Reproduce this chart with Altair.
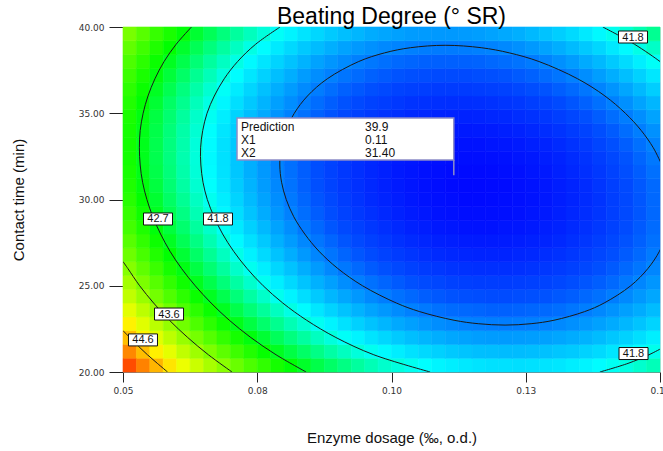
import altair as alt
import pandas as pd

# ---------------- data ----------------
# cell edges of the response-surface grid
enzyme_edges = [0.05, 0.0525, 0.055, 0.0575, 0.06, 0.0625, 0.065, 0.0675, 0.07, 0.0725,
                0.075, 0.0775, 0.08, 0.0825, 0.085, 0.0875, 0.09, 0.0925, 0.095, 0.0975,
                0.1, 0.1025, 0.105, 0.1075, 0.11, 0.1125, 0.115, 0.1175, 0.12, 0.1225,
                0.125, 0.1275, 0.13, 0.1325, 0.135, 0.1375, 0.14, 0.1425, 0.145, 0.1475, 0.15]
time_edges = [20, 20.8, 21.6, 22.4, 23.2, 24, 24.8, 25.6, 26.4, 27.2, 28, 28.8, 29.6,
              30.4, 31.2, 32, 32.8, 33.6, 34.4, 35.2, 36, 36.8, 37.6, 38.4, 39.2, 40]

# Beating degree (deg SR) per cell, rows from bottom (20 min) to top (40 min)
beating_rows = [
    [45.14, 44.89, 44.65, 44.42, 44.19, 43.98, 43.77, 43.58, 43.39, 43.21, 43.04, 42.88, 42.73, 42.58, 42.45, 42.33, 42.21, 42.10, 42.00, 41.91, 41.83, 41.76, 41.70, 41.64, 41.60, 41.56, 41.53, 41.51, 41.51, 41.50, 41.51, 41.53, 41.55, 41.59, 41.63, 41.69, 41.75, 41.82, 41.90, 41.99],
    [44.86, 44.61, 44.37, 44.14, 43.92, 43.71, 43.51, 43.31, 43.12, 42.95, 42.78, 42.62, 42.47, 42.33, 42.20, 42.07, 41.96, 41.85, 41.76, 41.67, 41.59, 41.52, 41.46, 41.41, 41.36, 41.33, 41.30, 41.29, 41.28, 41.28, 41.29, 41.31, 41.34, 41.37, 41.42, 41.47, 41.54, 41.61, 41.69, 41.78],
    [44.60, 44.35, 44.12, 43.89, 43.67, 43.46, 43.26, 43.06, 42.88, 42.70, 42.54, 42.38, 42.23, 42.09, 41.96, 41.84, 41.73, 41.63, 41.53, 41.45, 41.37, 41.30, 41.24, 41.19, 41.15, 41.12, 41.09, 41.08, 41.07, 41.08, 41.09, 41.11, 41.14, 41.18, 41.22, 41.28, 41.35, 41.42, 41.50, 41.60],
    [44.36, 44.11, 43.88, 43.65, 43.43, 43.22, 43.02, 42.83, 42.65, 42.48, 42.31, 42.16, 42.01, 41.88, 41.75, 41.63, 41.52, 41.41, 41.32, 41.24, 41.16, 41.10, 41.04, 40.99, 40.95, 40.92, 40.90, 40.89, 40.88, 40.89, 40.90, 40.92, 40.96, 41.00, 41.05, 41.11, 41.17, 41.25, 41.33, 41.43],
    [44.13, 43.89, 43.66, 43.43, 43.22, 43.01, 42.81, 42.62, 42.44, 42.27, 42.11, 41.96, 41.81, 41.68, 41.55, 41.43, 41.32, 41.22, 41.13, 41.05, 40.98, 40.91, 40.86, 40.81, 40.77, 40.75, 40.73, 40.71, 40.71, 40.72, 40.74, 40.76, 40.79, 40.84, 40.89, 40.95, 41.02, 41.10, 41.18, 41.28],
    [43.92, 43.68, 43.45, 43.23, 43.02, 42.81, 42.62, 42.43, 42.25, 42.08, 41.92, 41.77, 41.63, 41.49, 41.37, 41.25, 41.15, 41.05, 40.96, 40.88, 40.81, 40.75, 40.69, 40.65, 40.61, 40.59, 40.57, 40.56, 40.56, 40.57, 40.59, 40.61, 40.65, 40.69, 40.75, 40.81, 40.88, 40.96, 41.05, 41.15],
    [43.74, 43.50, 43.27, 43.05, 42.84, 42.63, 42.44, 42.25, 42.08, 41.91, 41.75, 41.60, 41.46, 41.33, 41.21, 41.10, 40.99, 40.89, 40.81, 40.73, 40.66, 40.60, 40.55, 40.51, 40.47, 40.45, 40.43, 40.43, 40.43, 40.44, 40.46, 40.49, 40.52, 40.57, 40.63, 40.69, 40.76, 40.85, 40.94, 41.04],
    [43.56, 43.33, 43.10, 42.88, 42.67, 42.47, 42.28, 42.10, 41.92, 41.76, 41.60, 41.45, 41.32, 41.19, 41.07, 40.95, 40.85, 40.76, 40.67, 40.60, 40.53, 40.47, 40.42, 40.38, 40.35, 40.33, 40.31, 40.31, 40.31, 40.32, 40.35, 40.38, 40.42, 40.46, 40.52, 40.59, 40.66, 40.75, 40.84, 40.94],
    [43.41, 43.18, 42.95, 42.74, 42.53, 42.33, 42.14, 41.96, 41.79, 41.62, 41.47, 41.32, 41.19, 41.06, 40.94, 40.83, 40.73, 40.64, 40.56, 40.48, 40.42, 40.36, 40.31, 40.27, 40.24, 40.22, 40.21, 40.21, 40.21, 40.23, 40.25, 40.29, 40.33, 40.38, 40.44, 40.51, 40.58, 40.67, 40.76, 40.87],
    [43.28, 43.05, 42.82, 42.61, 42.40, 42.21, 42.02, 41.84, 41.67, 41.51, 41.36, 41.21, 41.08, 40.95, 40.84, 40.73, 40.63, 40.54, 40.46, 40.39, 40.32, 40.27, 40.22, 40.18, 40.16, 40.14, 40.13, 40.13, 40.14, 40.15, 40.18, 40.21, 40.25, 40.31, 40.37, 40.44, 40.52, 40.61, 40.70, 40.81],
    [43.16, 42.93, 42.71, 42.50, 42.30, 42.10, 41.92, 41.74, 41.57, 41.41, 41.26, 41.12, 40.99, 40.86, 40.75, 40.64, 40.54, 40.46, 40.38, 40.31, 40.25, 40.19, 40.15, 40.11, 40.09, 40.07, 40.06, 40.06, 40.08, 40.09, 40.12, 40.16, 40.20, 40.26, 40.32, 40.39, 40.47, 40.56, 40.66, 40.77],
    [43.07, 42.84, 42.62, 42.41, 42.21, 42.01, 41.83, 41.65, 41.49, 41.33, 41.18, 41.04, 40.91, 40.79, 40.68, 40.57, 40.48, 40.39, 40.32, 40.25, 40.19, 40.14, 40.10, 40.06, 40.04, 40.02, 40.02, 40.02, 40.03, 40.05, 40.08, 40.12, 40.17, 40.23, 40.29, 40.36, 40.45, 40.54, 40.64, 40.75],
    [42.99, 42.76, 42.55, 42.34, 42.14, 41.95, 41.76, 41.59, 41.43, 41.27, 41.12, 40.99, 40.86, 40.74, 40.63, 40.53, 40.43, 40.35, 40.27, 40.21, 40.15, 40.10, 40.06, 40.03, 40.01, 39.99, 39.99, 40.00, 40.01, 40.03, 40.06, 40.10, 40.15, 40.21, 40.28, 40.35, 40.44, 40.53, 40.64, 40.75],
    [42.93, 42.70, 42.49, 42.28, 42.08, 41.89, 41.71, 41.54, 41.38, 41.23, 41.08, 40.95, 40.82, 40.70, 40.59, 40.49, 40.40, 40.32, 40.25, 40.18, 40.13, 40.08, 40.04, 40.01, 39.99, 39.98, 39.98, 39.99, 40.00, 40.03, 40.06, 40.10, 40.15, 40.21, 40.28, 40.36, 40.45, 40.54, 40.65, 40.76],
    [42.89, 42.66, 42.45, 42.25, 42.05, 41.86, 41.68, 41.52, 41.35, 41.20, 41.06, 40.93, 40.80, 40.69, 40.58, 40.48, 40.39, 40.31, 40.24, 40.18, 40.12, 40.08, 40.04, 40.02, 40.00, 39.99, 39.99, 40.00, 40.02, 40.04, 40.08, 40.12, 40.18, 40.24, 40.31, 40.39, 40.48, 40.58, 40.68, 40.80],
    [42.86, 42.64, 42.43, 42.23, 42.03, 41.85, 41.67, 41.51, 41.35, 41.20, 41.06, 40.92, 40.80, 40.69, 40.58, 40.49, 40.40, 40.32, 40.25, 40.19, 40.14, 40.10, 40.06, 40.04, 40.02, 40.02, 40.02, 40.03, 40.05, 40.08, 40.11, 40.16, 40.21, 40.28, 40.35, 40.43, 40.52, 40.62, 40.73, 40.85],
    [42.86, 42.64, 42.43, 42.23, 42.04, 41.85, 41.68, 41.51, 41.36, 41.21, 41.07, 40.94, 40.82, 40.71, 40.61, 40.51, 40.43, 40.35, 40.28, 40.22, 40.17, 40.13, 40.10, 40.08, 40.06, 40.06, 40.06, 40.08, 40.10, 40.13, 40.17, 40.21, 40.27, 40.34, 40.41, 40.50, 40.59, 40.69, 40.80, 40.92],
    [42.87, 42.66, 42.45, 42.25, 42.06, 41.88, 41.71, 41.54, 41.39, 41.24, 41.11, 40.98, 40.86, 40.75, 40.65, 40.55, 40.47, 40.40, 40.33, 40.27, 40.23, 40.19, 40.16, 40.14, 40.12, 40.12, 40.13, 40.14, 40.17, 40.20, 40.24, 40.29, 40.35, 40.42, 40.49, 40.58, 40.67, 40.78, 40.89, 41.01],
    [42.90, 42.69, 42.48, 42.29, 42.10, 41.92, 41.75, 41.59, 41.43, 41.29, 41.16, 41.03, 40.91, 40.80, 40.71, 40.62, 40.53, 40.46, 40.40, 40.34, 40.30, 40.26, 40.23, 40.21, 40.20, 40.20, 40.21, 40.23, 40.25, 40.29, 40.33, 40.38, 40.44, 40.51, 40.59, 40.68, 40.78, 40.88, 40.99, 41.12],
    [42.95, 42.74, 42.54, 42.34, 42.16, 41.98, 41.81, 41.65, 41.50, 41.36, 41.23, 41.10, 40.99, 40.88, 40.78, 40.69, 40.61, 40.54, 40.48, 40.43, 40.39, 40.35, 40.33, 40.31, 40.30, 40.30, 40.31, 40.33, 40.36, 40.39, 40.44, 40.49, 40.55, 40.63, 40.71, 40.80, 40.90, 41.00, 41.12, 41.24],
    [43.02, 42.81, 42.61, 42.42, 42.23, 42.06, 41.89, 41.73, 41.58, 41.44, 41.31, 41.19, 41.08, 40.97, 40.88, 40.79, 40.71, 40.65, 40.59, 40.54, 40.49, 40.46, 40.44, 40.42, 40.42, 40.42, 40.43, 40.45, 40.48, 40.52, 40.57, 40.62, 40.69, 40.76, 40.84, 40.93, 41.03, 41.14, 41.26, 41.39],
    [43.11, 42.90, 42.70, 42.51, 42.33, 42.15, 41.99, 41.83, 41.69, 41.55, 41.42, 41.30, 41.19, 41.08, 40.99, 40.91, 40.83, 40.77, 40.71, 40.66, 40.62, 40.59, 40.57, 40.55, 40.55, 40.55, 40.57, 40.59, 40.62, 40.66, 40.71, 40.77, 40.83, 40.91, 40.99, 41.09, 41.19, 41.30, 41.42, 41.55],
    [43.21, 43.01, 42.81, 42.62, 42.44, 42.27, 42.10, 41.95, 41.81, 41.67, 41.54, 41.43, 41.32, 41.22, 41.12, 41.04, 40.97, 40.90, 40.85, 40.80, 40.76, 40.73, 40.71, 40.70, 40.70, 40.71, 40.72, 40.75, 40.78, 40.82, 40.87, 40.93, 41.00, 41.08, 41.17, 41.26, 41.37, 41.48, 41.60, 41.73],
    [43.34, 43.13, 42.94, 42.75, 42.57, 42.40, 42.24, 42.09, 41.95, 41.81, 41.69, 41.57, 41.46, 41.36, 41.28, 41.20, 41.12, 41.06, 41.01, 40.96, 40.93, 40.90, 40.88, 40.87, 40.87, 40.88, 40.90, 40.92, 40.96, 41.00, 41.06, 41.12, 41.19, 41.27, 41.36, 41.45, 41.56, 41.67, 41.80, 41.93],
    [43.48, 43.28, 43.08, 42.90, 42.72, 42.55, 42.39, 42.24, 42.10, 41.97, 41.85, 41.73, 41.63, 41.53, 41.45, 41.37, 41.30, 41.24, 41.18, 41.14, 41.11, 41.08, 41.07, 41.06, 41.06, 41.07, 41.09, 41.12, 41.16, 41.20, 41.26, 41.32, 41.39, 41.47, 41.57, 41.66, 41.77, 41.89, 42.02, 42.15],
]

# contour lines (enzyme dosage, contact time)
c409_x = [0.15035, 0.14875, 0.1465, 0.14355, 0.13975, 0.13465, 0.12745, 0.12195, 0.1167, 0.11,
          0.10355, 0.0987, 0.0939, 0.08805, 0.08435, 0.0819, 0.08035, 0.07945, 0.0792, 0.07953,
          0.0804, 0.0818, 0.08385, 0.0865, 0.09, 0.0946, 0.1009, 0.10525, 0.11165, 0.11615,
          0.12115, 0.126, 0.13025, 0.13595, 0.1396, 0.14455, 0.14775, 0.1499, 0.1512]
c409_y = [32.0, 33.0, 34.0, 35.0, 36.0, 37.0, 38.0, 38.5, 38.8, 38.94,
          38.8, 38.5, 38.0, 37.0, 36.0, 35.0, 34.0, 33.0, 32.0, 31.0,
          30.0, 29.0, 28.0, 27.0, 26.0, 25.0, 24.0, 23.5, 23.0, 22.8,
          22.72, 22.8, 23.0, 23.5, 24.0, 25.0, 26.0, 27.0, 28.0]
c418a_x = [0.07925, 0.0747, 0.07135, 0.06885, 0.067, 0.06565, 0.06485, 0.06445, 0.0645, 0.0649,
           0.0657, 0.06695, 0.06855, 0.0706, 0.0731, 0.0761, 0.07975, 0.0842, 0.08965, 0.0967, 0.1072]
c418a_y = [40, 39, 38, 37, 36, 35, 34, 33, 32, 31, 30, 29, 28, 27, 26, 25, 24, 23, 22, 21, 20]
c418b_x = [0.1388, 0.14405, 0.14795, 0.15045]
c418b_y = [20.0, 20.5, 21.0, 21.4]
c418c_x = [0.13935, 0.14525, 0.15, 0.1508]
c418c_y = [40.0, 39.0, 38.0, 37.8]
c427_x = [0.06275, 0.0599, 0.05765, 0.05595, 0.05465, 0.05375, 0.0532, 0.05305, 0.0532, 0.05365,
          0.05445, 0.05555, 0.057, 0.05875, 0.0609, 0.06345, 0.0664, 0.0698, 0.0738, 0.0785, 0.0841]
c427_y = [40, 39, 38, 37, 36, 35, 34, 33, 32, 31, 30, 29, 28, 27, 26, 25, 24, 23, 22, 21, 20]
c436_x = [0.05, 0.0509, 0.0531, 0.0557, 0.05865, 0.06205, 0.0659, 0.0703]
c436_y = [26.4, 26.0, 25.0, 24.0, 23.0, 22.0, 21.0, 20.0]
c446_x = [0.05, 0.05125, 0.05285, 0.05455, 0.0564, 0.0583]
c446_y = [22.4, 22.0, 21.5, 21.0, 20.5, 20.0]

label_text = ["42.7", "41.8", "43.6", "44.6", "41.8", "41.8"]
label_x = [0.05652, 0.06769, 0.05857, 0.05372, 0.14497, 0.14507]
label_y = [28.87, 28.87, 23.36, 21.86, 39.42, 21.07]

pred_names = ["Prediction", "X1", "X2"]
pred_values = ["39.9", "0.11", "31.40"]
pred_point_x = 0.1116
pred_point_y = 31.4

x_ticks = [0.05, 0.075, 0.10, 0.125, 0.15]
x_tick_labels = ["0.05", "0.08", "0.10", "0.13", "0.15"]
y_ticks = [20, 25, 30, 35, 40]

color_stops = [39.9, 40.6, 41.7, 42.75, 44.3, 45.5]
color_names = ["#0000ff", "#0050ff", "#00ffff", "#00ff00", "#ffff00", "#ff0000"]

# ---------------- tables ----------------
cell_records = []
for r, row in enumerate(beating_rows):
    for c, val in enumerate(row):
        cell_records.append({"x": enzyme_edges[c], "x2": enzyme_edges[c + 1],
                             "y": time_edges[r], "y2": time_edges[r + 1], "v": val})
cells = pd.DataFrame(cell_records)

line_records = []
for name, xs, ys in [("40.9", c409_x, c409_y), ("41.8a", c418a_x, c418a_y),
                     ("41.8b", c418b_x, c418b_y), ("41.8c", c418c_x, c418c_y),
                     ("42.7", c427_x, c427_y), ("43.6", c436_x, c436_y),
                     ("44.6", c446_x, c446_y)]:
    for i, (xv, yv) in enumerate(zip(xs, ys)):
        line_records.append({"piece": name, "i": i, "x": xv, "y": yv})
lines_df = pd.DataFrame(line_records)

labels_df = pd.DataFrame({"x": label_x, "y": label_y, "t": label_text})

# prediction flag layout (positions in data units)
box_df = pd.DataFrame([{"x": 0.07123, "x2": pred_point_x, "y": 32.29, "y2": 34.725}])
pole_df = pd.DataFrame([{"x": pred_point_x, "y": pred_point_y, "y2": 32.29}])
row_y = [33.97, 33.21, 32.45]
pred_text_df = pd.DataFrame(
    [{"x": 0.07197, "y": yy, "t": n} for n, yy in zip(pred_names, row_y)] +
    [{"x": 0.09507, "y": yy, "t": v} for v, yy in zip(pred_values, row_y)])

# ---------------- encodings ----------------
label_expr = " : ".join(
    [f"abs(datum.value - {v}) < 0.001 ? '{t}'" for v, t in zip(x_ticks, x_tick_labels)]
) + " : datum.label"

xscale = alt.Scale(domain=[0.05, 0.15], nice=False, zero=False)
yscale = alt.Scale(domain=[20, 40], nice=False, zero=False)

x_axis = alt.Axis(values=x_ticks, labelExpr=label_expr, tickSize=10, labelPadding=4,
                  labelFlush=False, labelOverlap=False,
                  labelFont="DejaVu Sans", labelFontSize=9, labelColor="#333333",
                  tickColor="#222222", domainColor="#808080", grid=False,
                  titleFont="Liberation Sans", titleFontSize=15, titleFontWeight="normal",
                  titleColor="#111111", titleY=65, titleBaseline="middle")
y_axis = alt.Axis(values=y_ticks, format=".2f", tickSize=14, labelPadding=5,
                  labelFlush=False, labelOverlap=False,
                  labelFont="DejaVu Sans", labelFontSize=9, labelColor="#333333",
                  tickColor="#222222", domainColor="#808080", grid=False,
                  titleFont="Liberation Sans", titleFontSize=15, titleFontWeight="normal",
                  titleColor="#111111", titleX=-105, titleY=172.5, titleBaseline="middle",
                  titleAngle=270)

X = alt.X("x:Q", scale=xscale, axis=x_axis, title="Enzyme dosage (‰, o.d.)")
Y = alt.Y("y:Q", scale=yscale, axis=y_axis, title="Contact time (min)")

cscale = alt.Scale(domain=color_stops, range=color_names, interpolate="rgb")

heat = alt.Chart(cells).mark_rect(strokeWidth=0.6).encode(
    x=X, x2="x2:Q", y=Y, y2="y2:Q",
    color=alt.Color("v:Q", scale=cscale, legend=None),
    stroke=alt.Stroke("v:Q", scale=cscale, legend=None),
)

lines = alt.Chart(lines_df).mark_line(
    color="#1a1a1a", strokeWidth=1, interpolate="catmull-rom", clip=True
).encode(x=X, y=Y, detail="piece:N", order="i:Q")

label_boxes = alt.Chart(labels_df).mark_rect(
    width=29, height=12, fill="white", stroke="#111111", strokeWidth=1
).encode(x=X, y=Y)
label_texts = alt.Chart(labels_df).mark_text(
    font="Liberation Sans", fontSize=11, color="#111111", baseline="middle", align="center", dy=0.5
).encode(x=X, y=Y, text="t:N")

pbox = alt.Chart(box_df).mark_rect(fill="white", stroke="#8c8cc8", strokeWidth=1.5).encode(
    x=X, x2="x2:Q", y=Y, y2="y2:Q")
pole = alt.Chart(pole_df).mark_rule(color="#8c8cc8", strokeWidth=1.5).encode(x=X, y=Y, y2="y2:Q")
ptext = alt.Chart(pred_text_df).mark_text(
    font="Liberation Sans", fontSize=12, color="#111111", align="left", baseline="alphabetic"
).encode(x=X, y=Y, text="t:N")

chart = alt.layer(heat, lines, label_boxes, label_texts, pbox, pole, ptext).properties(
    width=537, height=345,
    title=alt.TitleParams("Beating Degree (° SR)", font="Liberation Sans", fontSize=23,
                          fontWeight="normal", color="#000000", anchor="middle",
                          frame="group", offset=-6),
    autosize=alt.AutoSizeParams(type="none"),
    padding={"left": 123, "top": 27, "right": 3, "bottom": 79},
).configure_view(stroke="#8c8c8c", strokeWidth=1).configure(background="white")

chart.save("out.html", embed_options={"renderer": "svg", "actions": False})
